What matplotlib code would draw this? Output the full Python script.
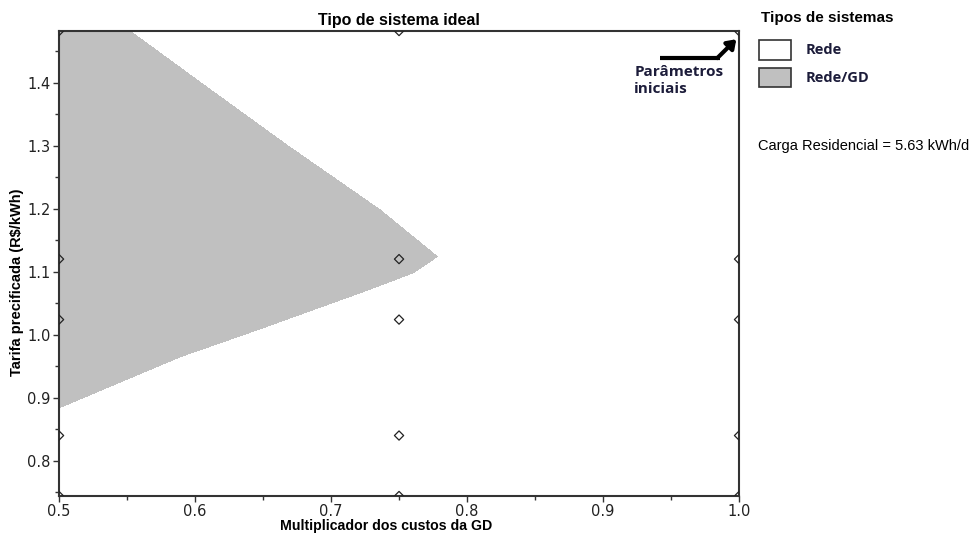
import numpy as np
import matplotlib.pyplot as plt
from matplotlib.patches import Patch, Polygon
from matplotlib.ticker import MultipleLocator

plt.rcParams['font.family'] = ['Liberation Sans', 'DejaVu Sans']

# sensitivity grid (multiplier of DG costs x priced tariff)
mult_values = [0.50, 0.75, 1.00]
tariff_values = [0.744, 0.840, 1.024, 1.120, 1.482]

# boundary of the "Rede/GD" region
upper_x = [0.500, 0.552, 0.604, 0.668, 0.736, 0.778]
upper_y = [1.482, 1.482, 1.400, 1.300, 1.198, 1.124]
lower_x = [0.778, 0.760, 0.727, 0.646, 0.589, 0.500]
lower_y = [1.124, 1.098, 1.071, 1.008, 0.965, 0.884]

legend_title = 'Tipos de sistemas'
legend_labels = ['Rede', 'Rede/GD']
legend_colors = ['white', '#c0c0c0']
load_text = 'Carga Residencial = 5.63 kWh/d'

fig = plt.figure(figsize=(9.76, 5.33), dpi=100)
ax = fig.add_axes([0.0605, 0.0694, 0.6967, 0.8724])

region = np.column_stack([upper_x + lower_x, upper_y + lower_y])
ax.add_patch(Polygon(region, closed=True, facecolor=legend_colors[1],
                     edgecolor='none', antialiased=False, zorder=1))

mx, ty = np.meshgrid(mult_values, tariff_values)
ax.scatter(mx.ravel(), ty.ravel(), marker='D', s=22, facecolor='none',
           edgecolor='#222222', linewidth=0.9, zorder=3, clip_on=True)

ax.set_xlim(0.5, 1.0)
ax.set_ylim(0.744, 1.482)
ax.xaxis.set_major_locator(MultipleLocator(0.1))
ax.xaxis.set_minor_locator(MultipleLocator(0.05))
ax.yaxis.set_major_locator(MultipleLocator(0.1))
ax.yaxis.set_minor_locator(MultipleLocator(0.05))
ax.xaxis.set_major_formatter(plt.FormatStrFormatter('%.1f'))
ax.yaxis.set_major_formatter(plt.FormatStrFormatter('%.1f'))
ax.tick_params(which='major', length=4, width=1, labelsize=10.5, pad=2, color='#333333')
ax.tick_params(which='minor', length=3, width=1, color='#333333')
for lbl in ax.get_xticklabels() + ax.get_yticklabels():
    lbl.set_family('DejaVu Sans')
    lbl.set_color('#222222')
for s in ax.spines.values():
    s.set_linewidth(1.5)
    s.set_color('#333333')

ax.set_title('Tipo de sistema ideal', fontsize=11.5, fontweight='bold', pad=4)
ax.set_xlabel('Multiplicador dos custos da GD', fontsize=10.2, fontweight='bold')
ax.set_ylabel('Tarifa precificada (R$/kWh)', fontsize=10.5, fontweight='bold')
ax.xaxis.set_label_coords(0.481, -0.049)
ax.yaxis.set_label_coords(-0.051, 0.46)

# arrow pointing at the initial parameters
ax.plot([0.942, 0.986], [1.439, 1.439], color='black', lw=3,
        solid_capstyle='butt', zorder=4)
ax.annotate('', xy=(0.998, 1.469), xytext=(0.984, 1.439),
            arrowprops=dict(arrowstyle='-|>,head_length=0.5,head_width=0.35',
                            color='black', lw=3, shrinkA=0, shrinkB=0))
ax.text(0.923, 1.428, 'Parâmetros\niniciais', fontsize=11, fontweight='bold',
        family=['Open Sans', 'DejaVu Sans'], color='#1c1c3a', va='top', ha='left',
        linespacing=1.25)

fig.text(761 / 976, 1 - 18 / 533, legend_title, fontsize=11, fontweight='bold',
         ha='left', va='center')
handles = [Patch(facecolor=c, edgecolor='#333333', linewidth=1.2) for c in legend_colors]
leg = ax.legend(handles, legend_labels,
                loc='upper left', bbox_to_anchor=(1.0294, 0.981), frameon=False,
                handlelength=2.2, handleheight=1.7, handletextpad=1.0,
                labelspacing=0.55, borderaxespad=0, borderpad=0,
                prop={'family': ['Open Sans', 'DejaVu Sans'], 'weight': 'bold', 'size': 10.5})
for t in leg.get_texts():
    t.set_color('#1c1c3a')

fig.text(0.777, 0.726, load_text, fontsize=10.5, ha='left', va='center')

fig.savefig('out.png', dpi=100)
